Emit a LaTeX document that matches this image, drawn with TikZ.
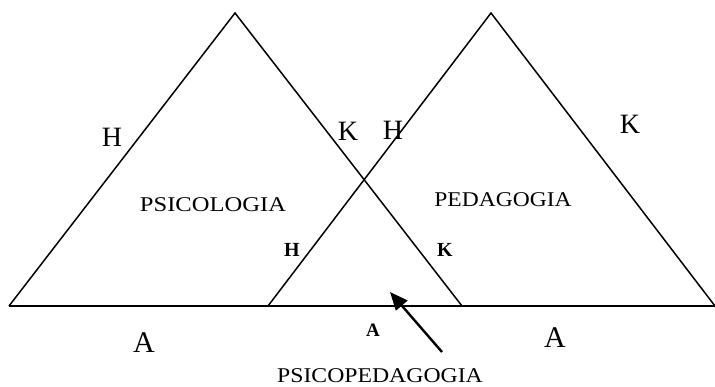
\documentclass[tikz,border=0pt]{standalone}
\usepackage{fontspec}
\usepackage{graphicx}
\setmainfont{Liberation Serif}
\usetikzlibrary{arrows.meta}
\begin{document}
\begin{tikzpicture}[x=1pt,y=-1pt,
  edge/.style={line width=1.5pt,line join=miter},
  biglbl/.style={inner sep=0pt,font=\fontsize{28}{28}\selectfont},
  midlbl/.style={inner sep=0pt,font=\fontsize{20}{20}\selectfont\bfseries},
  title/.style={inner sep=0pt,font=\fontsize{21}{21}\selectfont}]
\useasboundingbox (0,0) rectangle (715,386);
% vertices
\coordinate (L1) at (9,306);
\coordinate (L2) at (235,13);
\coordinate (L3) at (462,306);
\coordinate (R1) at (268,306);
\coordinate (R2) at (491,13);
\coordinate (R3) at (715,306);
% triangles
\draw[edge] (L1) -- (L2) -- (L3);
\draw[edge] (R1) -- (R2) -- (R3);
\draw[edge] (L1) -- (R3);
% labels
\node[biglbl] (hL) at (112,137) {H};
\node[biglbl] (kL) at (348,131) {K};
\node[biglbl] (hR) at (393,130) {H};
\node[biglbl] (kR) at (630,124) {K};
\node[title] (psico) at (213,205) {\scalebox{1.17}[1]{PSICOLOGIA}};
\node[title] (peda) at (503,200) {\scalebox{1.12}[1]{PEDAGOGIA}};
\node[midlbl] (hS) at (292,250) {H};
\node[midlbl] (kS) at (445,250) {K};
\node[biglbl,font=\fontsize{30}{30}\selectfont] (aL) at (144,343) {A};
\node[midlbl,font=\fontsize{19}{19}\selectfont\bfseries] (aS) at (373,330) {A};
\node[biglbl,font=\fontsize{30}{30}\selectfont] (aR) at (555,338) {A};
\node[title] (psped) at (380,376) {\scalebox{1.13}[1]{PSICOPEDAGOGIA}};
% arrow
\coordinate (arrS) at (442,352);
\coordinate (arrT) at (390,292);
\draw[line width=2.4pt,-{Triangle[length=18pt,width=15pt]}] (arrS) -- (arrT);
\end{tikzpicture}
\end{document}
